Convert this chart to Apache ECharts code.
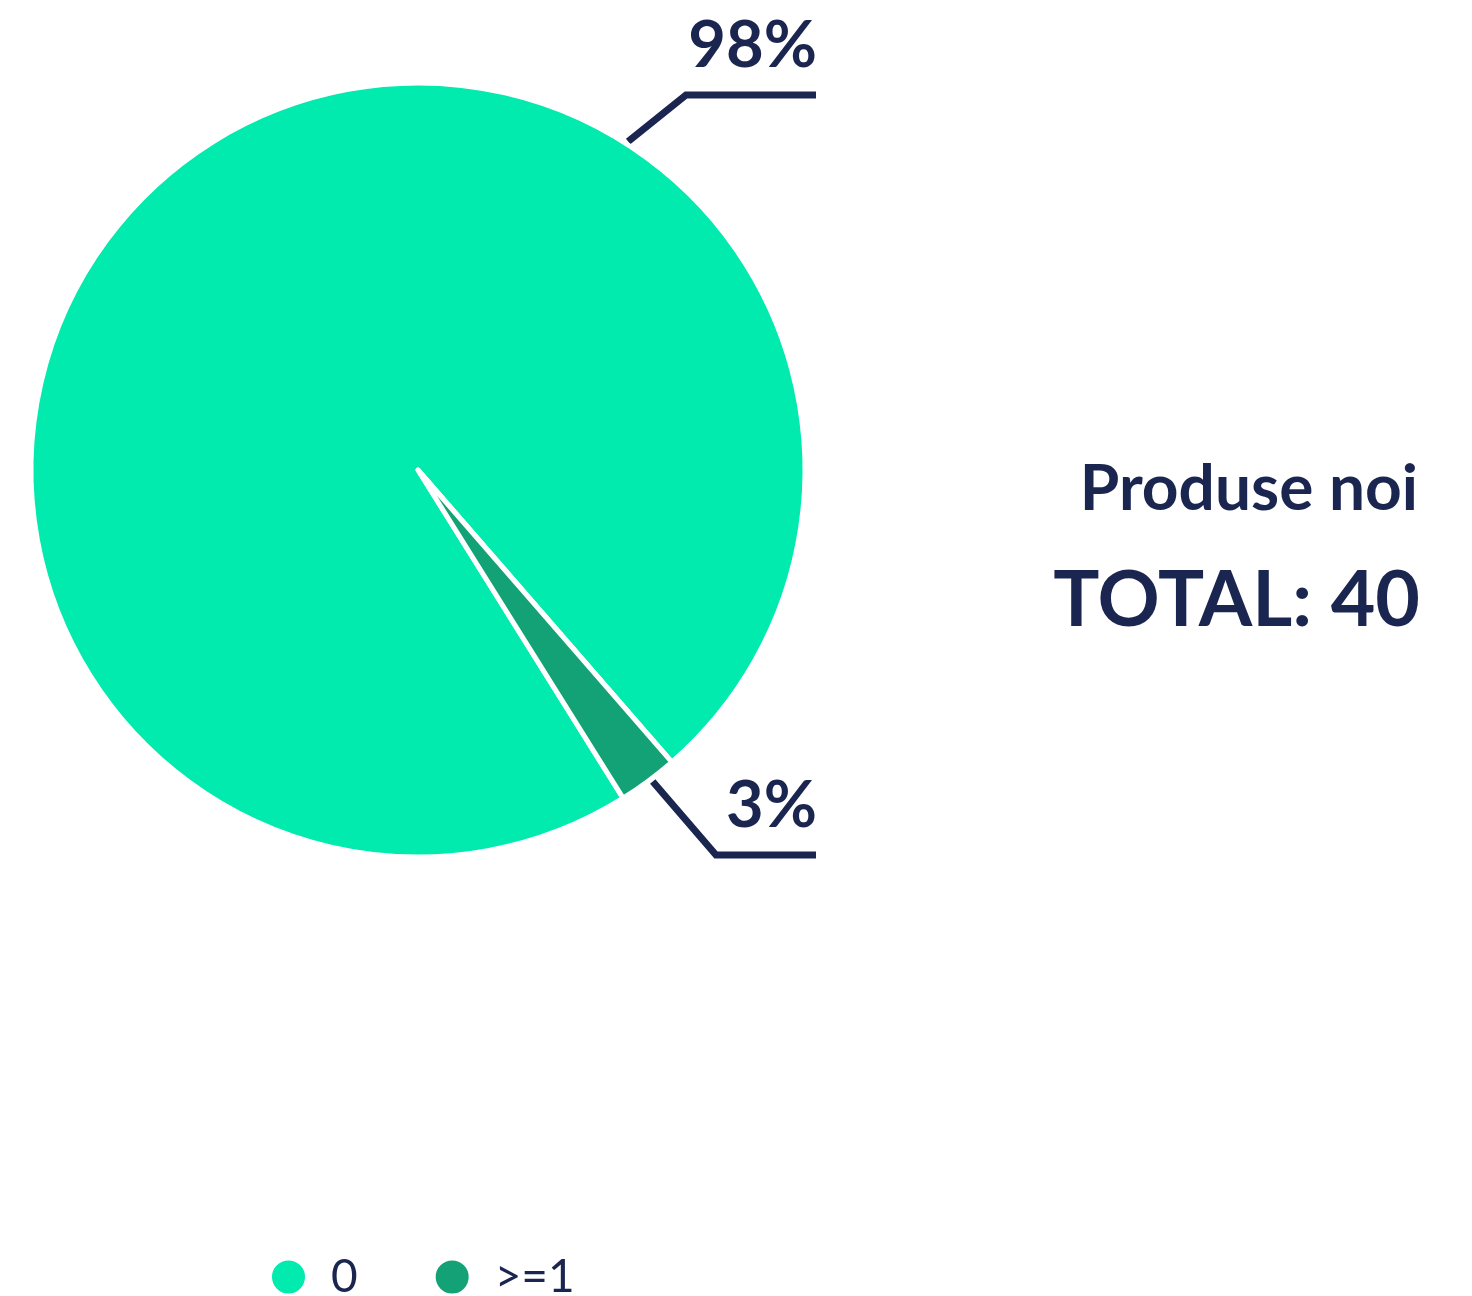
<!DOCTYPE html>
<html>
<head>
<meta charset="utf-8">
<script src="https://cdn.jsdelivr.net/npm/echarts@6/dist/echarts.min.js"></script>
<style>html,body{margin:0;padding:0;background:#fff}#c{width:1472px;height:1296px}</style>
</head>
<body>
<div id="c"></div>
<script>
const categories = ['0', '>=1'];
const values = [39, 1];
const colors = ['#00EBAD', '#13A275'];
const subtitle = 'Produse noi';
const totalLabel = 'TOTAL: ';

const navy = '#1a2650';
const total = values.reduce((a, b) => a + b, 0);
const cx = 418, cy = 470, R = 387;

// label line layouts (angle on circle in degrees, elbow and end x)
const labelGeo = [
  { ang: 57.4, elbow: [686, 95], endX: 816 },
  { ang: -53, elbow: [716, 855], endX: 816 }
];

const chart = echarts.init(document.getElementById('c'));
chart.setOption({
  animation: false,
  legend: {
    left: 270, top: 1254, padding: 0,
    itemWidth: 35, itemHeight: 35, itemGap: 76,
    icon: 'circle',
    textStyle: { fontFamily: 'Lato', fontSize: 46, lineHeight: 35, color: navy, padding: [0, 0, 0, 20] },
    data: categories
  },
  graphic: [
    { type: 'text', right: 54, top: 457, style: { text: subtitle, font: 'bold 64px Lato', fill: navy } },
    { type: 'text', right: 52, top: 563, style: { text: totalLabel + total, font: 'bold 77px Lato', fill: navy } }
  ],
  series: [{
    type: 'pie',
    center: [cx, cy],
    radius: R,
    startAngle: -58,
    avoidLabelOverlap: false,
    itemStyle: { borderColor: '#fff', borderWidth: 5 },
    label: {
      show: true,
      formatter: p => Math.round(p.value / total * 100) + '%',
      fontFamily: 'Lato', fontWeight: 'bold', fontSize: 65, color: navy
    },
    labelLine: { show: true, lineStyle: { color: navy, width: 7 } },
    labelLayout: function (params) {
      const g = labelGeo[params.dataIndex];
      const a = g.ang * Math.PI / 180;
      const rr = R + 3;
      const p0 = [cx + rr * Math.cos(a), cy - rr * Math.sin(a)];
      return {
        x: g.endX + 1,
        y: g.elbow[1] - 16,
        align: 'right',
        verticalAlign: 'bottom',
        labelLinePoints: [p0, g.elbow, [g.endX, g.elbow[1]]]
      };
    },
    data: categories.map((c, i) => ({ name: c, value: values[i], itemStyle: { color: colors[i] } }))
  }]
});
</script>
</body>
</html>
